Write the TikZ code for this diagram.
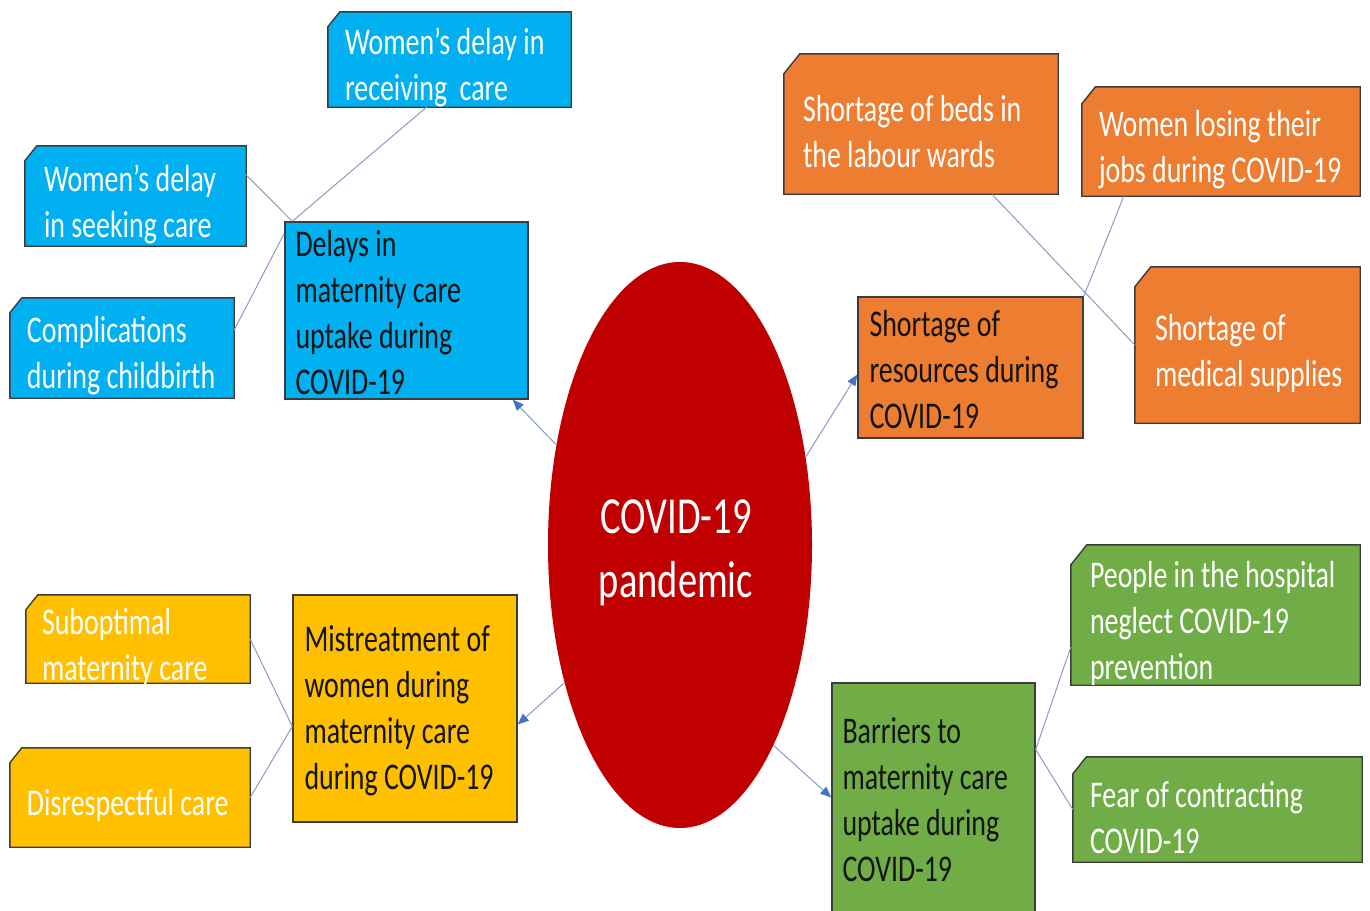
\documentclass[tikz,border=0pt]{standalone}
\usepackage{fontspec}
\setmainfont{Carlito}[FakeStretch=0.74]
\usetikzlibrary{shapes.geometric,arrows.meta}

\definecolor{cblue}{HTML}{00B0F0}
\definecolor{corange}{HTML}{ED7D31}
\definecolor{cyellow}{HTML}{FFC000}
\definecolor{cgreen}{HTML}{70AD47}
\definecolor{cred}{HTML}{C00000}
\definecolor{cedge}{HTML}{3C3C3C}
\definecolor{clink}{HTML}{8C9BC8}
\definecolor{ctip}{HTML}{4472C4}

\tikzset{
  boxframe/.style={rectangle, inner sep=0pt, draw=none},
  boxedge/.style={draw=cedge, line width=1.4pt},
  subtext/.style={anchor=west, align=left, inner sep=0pt, text=white,
    font=\fontsize{37.7pt}{46pt}\selectfont, yshift=-8pt},
  maintext/.style={subtext, text=black!92, yshift=6pt},
  link/.style={draw=clink, line width=1pt},
  arrowlink/.style={link, -{Triangle[length=11pt,width=9pt,color=ctip]}},
}

% box with a snipped top-left corner: name, centre, width, height, colour, snip, text inset, text
\newcommand\snipbox[8]{%
  \node[boxframe, minimum width=#3pt, minimum height=#4pt] (#1) at #2 {};
  \filldraw[boxedge, fill=#5] ([xshift=0.8*#6pt]#1.north west) -- (#1.north east)
    -- (#1.south east) -- (#1.south west) -- ([yshift=-#6pt]#1.north west) -- cycle;
  \node[subtext] (#1-t) at ([xshift=#7pt]#1.west) {#8};
}
% plain rectangular box: name, centre, width, height, colour, text inset, text
\newcommand\plainbox[7]{%
  \node[boxframe, boxedge, fill=#5, minimum width=#3pt, minimum height=#4pt] (#1) at #2 {};
  \node[maintext] (#1-t) at ([xshift=#6pt]#1.west) {#7};
}

\begin{document}
\begin{tikzpicture}[x=1pt, y=-1pt]
\useasboundingbox (0,0) rectangle (1370,910);
\fill[white] (0,0) rectangle (1370,910);

% central theme
\node[ellipse, fill=cred, minimum width=264pt, minimum height=566pt, inner sep=0pt] (covid) at (680,545) {};
\node[align=center, inner sep=0pt, text=white, font=\fontsize{52pt}{64pt}\selectfont] (covid-t) at (676,553) {COVID-19\\pandemic};

% delays (blue)
\snipbox{recv}{(449.5,59.5)}{243}{95}{cblue}{15}{17}{Women’s delay in\\receiving\ \ care}
\snipbox{seek}{(135.5,196)}{221}{100}{cblue}{15}{19}{Women’s delay\\in seeking care}
\snipbox{comp}{(122,348)}{224}{100}{cblue}{15}{17}{Complications\\during childbirth}
\plainbox{delays}{(406.5,310.5)}{243}{177}{cblue}{11}{Delays in\\maternity care\\uptake during\\COVID-19}

% resources (orange)
\snipbox{beds}{(921,124)}{274}{140}{corange}{20}{19}{Shortage of beds in\\the labour wards}
\snipbox{jobs}{(1221,141.5)}{278}{109}{corange}{17}{17}{Women losing their\\jobs during COVID-19}
\snipbox{med}{(1247.5,345)}{225}{156}{corange}{20}{20}{Shortage of\\medical supplies}
\plainbox{res}{(970.5,367.5)}{225}{141}{corange}{12}{Shortage of\\resources during\\COVID-19}

% mistreatment (yellow)
\snipbox{subopt}{(138,639)}{224}{88}{cyellow}{15}{16}{Suboptimal\\maternity care}
\snipbox{disr}{(130,797.5)}{240}{99}{cyellow}{15}{17}{Disrespectful care}
\plainbox{mist}{(405,708.5)}{224}{227}{cyellow}{12}{Mistreatment of\\women during\\maternity care\\during COVID-19}

% barriers (green)
\snipbox{people}{(1215.5,615)}{289}{140}{cgreen}{20}{19}{People in the hospital\\neglect COVID-19\\prevention}
\snipbox{fear}{(1217.5,809.5)}{289}{105}{cgreen}{17}{17}{Fear of contracting\\COVID-19}
\plainbox{bar}{(933.5,797.5)}{203}{229}{cgreen}{11}{Barriers to\\maternity care\\uptake during\\COVID-19}

% arrows from the centre to the four themes
\draw[arrowlink] (covid.141) -- ([xshift=-16pt]delays.south east);
\draw[arrowlink] (covid.35) -- ([yshift=-7pt]res.west);
\draw[arrowlink] (covid.230) -- ([yshift=-16pt]mist.east);
\draw[arrowlink] (covid.295) -- (bar.west);

% links from each theme to its sub-themes
\draw[link] ([xshift=-23pt]recv.south) -- ([xshift=8pt]delays.north west);
\draw[link] ([yshift=21pt]seek.east) -- ([xshift=8pt]delays.north west);
\draw[link] ([yshift=18pt]comp.east) -- ([yshift=-12pt]delays.north west);

\draw[link] ([xshift=71pt]beds.south) -- (med.west);
\draw[link] ([xshift=42pt]jobs.south west) -- (res.north east);

\draw[link] (subopt.east) -- ([yshift=-18pt]mist.west);
\draw[link] (disr.east) -- ([yshift=-18pt]mist.west);

\draw[link] ([yshift=48pt]bar.east) -- ([yshift=-32pt]people.west);
\draw[link] ([yshift=48pt]bar.east) -- (fear.west);
\end{tikzpicture}
\end{document}
